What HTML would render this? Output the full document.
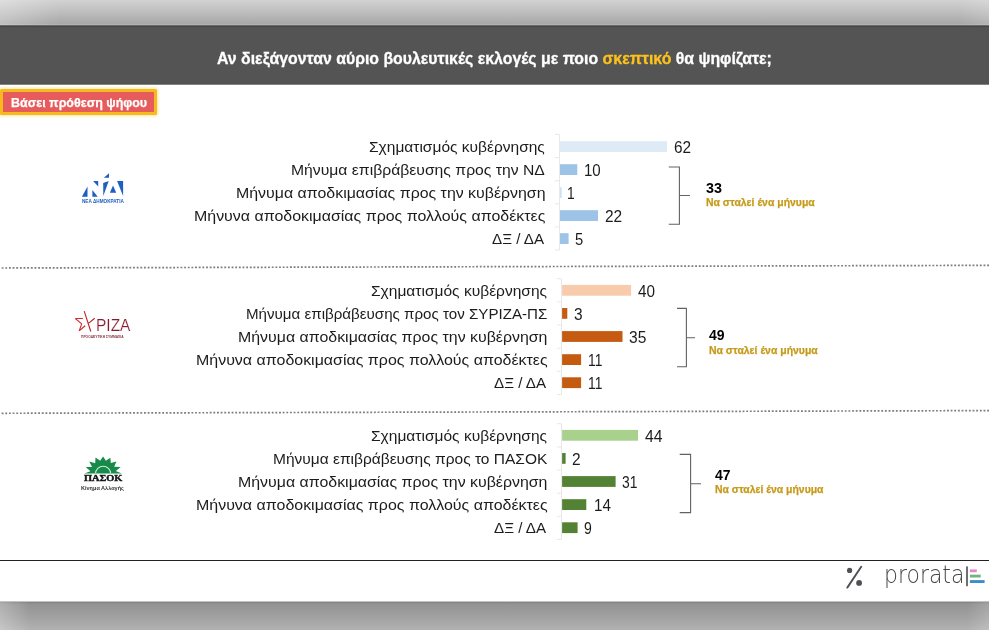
<!DOCTYPE html>
<html lang="el">
<head>
<meta charset="utf-8">
<title>Αν διεξάγονταν αύριο βουλευτικές εκλογές</title>
<style>
html,body{margin:0;padding:0;}
body{width:989px;height:630px;position:relative;overflow:hidden;background:#fff;font-family:'Liberation Sans',sans-serif;}
.abs{position:absolute;}
.t{position:absolute;white-space:nowrap;transform-origin:0 0;display:block;}
#topstrip{left:0;top:0;width:989px;height:30px;background:linear-gradient(to bottom,#d2d2d2 0,#cdcdcd 3px,#bcbcbc 13px,#a8a8a8 23.4px,#b1b1b1 24.5px,#b1b1b1 25.1px,#474747 25.7px,#474747 26.7px,#545454 27.6px,#545454 30px);}
#topstrip:before{content:"";position:absolute;left:0;top:0;width:60px;height:25px;background:linear-gradient(to right,rgba(255,255,255,.28),rgba(255,255,255,0));}
#topstrip:after{content:"";position:absolute;right:0;top:0;width:30px;height:25px;background:linear-gradient(to left,rgba(255,255,255,.14),rgba(255,255,255,.08) 45%,rgba(255,255,255,0));}
#band{left:0;top:29px;width:989px;height:58px;background:linear-gradient(to bottom,#545454 0,#545454 54.2px,#4c4c4c 55.1px,rgba(84,84,84,0) 56.4px);}
#botstrip{left:0;top:600px;width:989px;height:30px;background:linear-gradient(to bottom,rgba(134,134,134,0) 0.9px,#868686 2.1px,#868686 2.6px,#939393 4px,#a2a2a2 18px,#b2b2b2 30px);}
#botstrip:before{content:"";position:absolute;left:0;top:2px;width:30px;height:28px;background:linear-gradient(to right,rgba(255,255,255,.28),rgba(255,255,255,0));}
#botstrip:after{content:"";position:absolute;right:0;top:2px;width:22px;height:28px;background:linear-gradient(to left,rgba(255,255,255,.16),rgba(255,255,255,0));}
#badge{left:0;top:89.4px;width:156.7px;height:25.2px;box-sizing:border-box;background:#e65c5c;border:3px solid #f7b91e;border-radius:1.5px;box-shadow:0 0 3px 1px rgba(250,205,90,.55);}
#rule{left:0;top:559.5px;width:989px;height:1.4px;background:#222;}
svg{position:absolute;left:0;top:0;}
</style>
</head>
<body>
<div id="topstrip" class="abs"></div>
<div id="band" class="abs"></div>
<div id="botstrip" class="abs"></div>
<div id="badge" class="abs"></div>
<div id="rule" class="abs"></div>

<svg width="989" height="630" viewBox="0 0 989 630">
<path d="M559.5 134.5V250.0" stroke="#e8e8e8" stroke-width="1" fill="none"/>
<path d="M554.9 134.5H559.5" stroke="#e8e8e8" stroke-width="1" fill="none"/>
<path d="M554.9 157.6H559.5" stroke="#e8e8e8" stroke-width="1" fill="none"/>
<path d="M554.9 180.7H559.5" stroke="#e8e8e8" stroke-width="1" fill="none"/>
<path d="M554.9 203.8H559.5" stroke="#e8e8e8" stroke-width="1" fill="none"/>
<path d="M554.9 226.9H559.5" stroke="#e8e8e8" stroke-width="1" fill="none"/>
<path d="M554.9 250.0H559.5" stroke="#e8e8e8" stroke-width="1" fill="none"/>
<rect x="560.0" y="141.2" width="107.0" height="10.8" fill="#deebf7"/>
<rect x="560.0" y="164.2" width="17.3" height="10.8" fill="#9dc3e6"/>
<rect x="560.0" y="187.2" width="1.7" height="10.8" fill="#cfe1f3"/>
<rect x="560.0" y="210.2" width="38.0" height="10.8" fill="#9dc3e6"/>
<rect x="560.0" y="233.2" width="8.6" height="10.8" fill="#9dc3e6"/>
<path d="M561.5 278.7V394.5" stroke="#e8e8e8" stroke-width="1" fill="none"/>
<path d="M556.9 278.7H561.5" stroke="#e8e8e8" stroke-width="1" fill="none"/>
<path d="M556.9 301.9H561.5" stroke="#e8e8e8" stroke-width="1" fill="none"/>
<path d="M556.9 325.0H561.5" stroke="#e8e8e8" stroke-width="1" fill="none"/>
<path d="M556.9 348.2H561.5" stroke="#e8e8e8" stroke-width="1" fill="none"/>
<path d="M556.9 371.3H561.5" stroke="#e8e8e8" stroke-width="1" fill="none"/>
<path d="M556.9 394.5H561.5" stroke="#e8e8e8" stroke-width="1" fill="none"/>
<rect x="562.1" y="284.9" width="69.0" height="10.8" fill="#f8cbad"/>
<rect x="562.1" y="308.0" width="5.2" height="10.8" fill="#c55a11"/>
<rect x="562.1" y="331.1" width="60.4" height="10.8" fill="#c55a11"/>
<rect x="562.1" y="354.2" width="19.0" height="10.8" fill="#c55a11"/>
<rect x="562.1" y="377.3" width="19.0" height="10.8" fill="#c55a11"/>
<path d="M561.5 423.7V539.5" stroke="#e8e8e8" stroke-width="1" fill="none"/>
<path d="M556.9 423.7H561.5" stroke="#e8e8e8" stroke-width="1" fill="none"/>
<path d="M556.9 446.9H561.5" stroke="#e8e8e8" stroke-width="1" fill="none"/>
<path d="M556.9 470.0H561.5" stroke="#e8e8e8" stroke-width="1" fill="none"/>
<path d="M556.9 493.2H561.5" stroke="#e8e8e8" stroke-width="1" fill="none"/>
<path d="M556.9 516.3H561.5" stroke="#e8e8e8" stroke-width="1" fill="none"/>
<path d="M556.9 539.5H561.5" stroke="#e8e8e8" stroke-width="1" fill="none"/>
<rect x="562.1" y="429.9" width="75.9" height="10.8" fill="#a9d18e"/>
<rect x="562.1" y="453.0" width="3.5" height="10.8" fill="#548235"/>
<rect x="562.1" y="476.1" width="53.5" height="10.8" fill="#548235"/>
<rect x="562.1" y="499.2" width="24.2" height="10.8" fill="#548235"/>
<rect x="562.1" y="522.3" width="15.5" height="10.8" fill="#548235"/>
<line x1="-2" y1="268.0" x2="991" y2="265.35" stroke="#7d7d7d" stroke-width="1.7" stroke-dasharray="1.85 1.8"/>
<line x1="-2" y1="413.3" x2="991" y2="410.6" stroke="#7d7d7d" stroke-width="1.7" stroke-dasharray="1.85 1.8"/>
<path d="M668.8 167.0H679.4V224.2H668.8M679.4 195.5H690.0" stroke="#626262" stroke-width="1.1" fill="none"/>
<path d="M677.0 308.4H686.4V366.8H677.0M686.4 337.7H695.0" stroke="#626262" stroke-width="1.1" fill="none"/>
<path d="M679.7 454.4H690.6V512.6H679.7M690.6 483.8H701.0" stroke="#626262" stroke-width="1.1" fill="none"/>
<polygon points="81.9,196.7 87.5,186.5 87.5,196.7" fill="#1f5ec2"/>
<polygon points="93.1,180.9 98.2,180.9 98.2,186.5" fill="#1f5ec2"/>
<polygon points="92.4,190.1 92.4,196.7 97.7,196.7" fill="#1f5ec2"/>
<polygon points="103.2,183.0 108.7,181.1 103.3,195.9" fill="#1f5ec2"/>
<polygon points="103.8,177.8 109.0,173.2 109.0,177.8" fill="#1f5ec2"/>
<polygon points="109.9,192.8 113.0,185.5 116.2,192.8" fill="#1f5ec2"/>
<polygon points="117.1,181.1 123.1,181.1 123.1,196.0" fill="#1f5ec2"/>
<defs><linearGradient id="sg" x1="75" y1="0" x2="96" y2="0" gradientUnits="userSpaceOnUse"><stop offset="0" stop-color="#e0312e"/><stop offset="1" stop-color="#a8242c"/></linearGradient></defs>
<path d="M82.9 318.5L75.3 318.5L81.7 323.9L79.2 330.9L85.2 325.7M84.2 311.1L90.8 331.5M94.7 318.3L88.7 323.1" stroke="url(#sg)" stroke-width="1.15" fill="none" stroke-linejoin="bevel"/>
<polygon points="84.4,473.4 90.4,471.2 85.8,467.1 92.0,466.9 89.3,461.6 95.2,463.2 95.5,457.6 100.2,460.8 103.1,456.5 105.9,460.8 110.4,457.8 110.8,463.1 116.4,461.6 114.2,466.8 120.7,467.0 115.8,471.1 121.8,473.4" fill="#17894a"/>
<path d="M95.6 473.4A7.5 7.2 0 0 1 110.6 473.4" stroke="#c9f2d2" stroke-width="1.1" fill="none"/>
<path d="M847.3 587.6L861.2 566.8" stroke="#505055" stroke-width="1.9" stroke-linecap="round" fill="none"/>
<circle cx="849.6" cy="570.4" r="2.6" fill="#505055"/>
<circle cx="859.1" cy="582.9" r="2.9" fill="#505055"/>
<rect x="966.3" y="566.4" width="1.4" height="19.8" fill="#333"/>
<rect x="969.9" y="569.4" width="6.9" height="2.8" fill="#e884d2"/>
<rect x="969.9" y="574.7" width="10.8" height="2.8" fill="#6fb57c"/>
<rect x="969.9" y="580.1" width="14.7" height="2.9" fill="#3a8fc8"/>
</svg>

<div id="tx" style="position:absolute;left:0;top:0;width:989px;height:630px;will-change:transform">
<span class="t" style="left:217.40px;top:50.00px;font:700 16.2px/16.2px 'Liberation Sans', sans-serif;color:#ffffff;transform:scaleX(0.9794);-webkit-text-stroke:0.3px currentColor;">Αν διεξάγονταν αύριο βουλευτικές εκλογές με ποιο <span style="color:#fcc21b">σκεπτικό</span> θα ψηφίζατε;</span>
<span class="t" style="left:10.60px;top:96.00px;font:700 13.2px/13.2px 'Liberation Sans', sans-serif;color:#ffffff;transform:scaleX(0.9462);-webkit-text-stroke:0.25px #fff;">Βάσει πρόθεση ψήφου</span>
<span class="t" style="left:369.30px;top:140.00px;font:400 14.6px/14.6px 'Liberation Sans', sans-serif;color:#1c1c1c;transform:scaleX(1.0636);">Σχηματισμός κυβέρνησης</span>
<span class="t" style="left:291.02px;top:163.00px;font:400 14.6px/14.6px 'Liberation Sans', sans-serif;color:#1c1c1c;transform:scaleX(1.0773);">Μήνυμα επιβράβευσης προς την ΝΔ</span>
<span class="t" style="left:235.71px;top:186.00px;font:400 14.6px/14.6px 'Liberation Sans', sans-serif;color:#1c1c1c;transform:scaleX(1.0900);">Μήνυμα αποδκιμασίας προς την κυβέρνηση</span>
<span class="t" style="left:193.81px;top:209.00px;font:400 14.6px/14.6px 'Liberation Sans', sans-serif;color:#1c1c1c;transform:scaleX(1.0923);">Μήνυνα αποδοκιμασίας προς πολλούς αποδέκτες</span>
<span class="t" style="left:491.90px;top:232.00px;font:400 14.6px/14.6px 'Liberation Sans', sans-serif;color:#1c1c1c;transform:scaleX(1.0402);">ΔΞ / ΔΑ</span>
<span class="t" style="left:371.40px;top:284.00px;font:400 14.6px/14.6px 'Liberation Sans', sans-serif;color:#1c1c1c;transform:scaleX(1.0648);">Σχηματισμός κυβέρνησης</span>
<span class="t" style="left:246.06px;top:307.00px;font:400 14.6px/14.6px 'Liberation Sans', sans-serif;color:#1c1c1c;transform:scaleX(1.0366);">Μήνυμα επιβράβευσης προς τον ΣΥΡΙΖΑ-ΠΣ</span>
<span class="t" style="left:238.11px;top:330.00px;font:400 14.6px/14.6px 'Liberation Sans', sans-serif;color:#1c1c1c;transform:scaleX(1.0896);">Μήνυμα αποδκιμασίας προς την κυβέρνηση</span>
<span class="t" style="left:195.81px;top:353.00px;font:400 14.6px/14.6px 'Liberation Sans', sans-serif;color:#1c1c1c;transform:scaleX(1.0933);">Μήνυνα αποδοκιμασίας προς πολλούς αποδέκτες</span>
<span class="t" style="left:494.20px;top:376.00px;font:400 14.6px/14.6px 'Liberation Sans', sans-serif;color:#1c1c1c;transform:scaleX(1.0402);">ΔΞ / ΔΑ</span>
<span class="t" style="left:371.40px;top:429.00px;font:400 14.6px/14.6px 'Liberation Sans', sans-serif;color:#1c1c1c;transform:scaleX(1.0648);">Σχηματισμός κυβέρνησης</span>
<span class="t" style="left:272.84px;top:452.00px;font:400 14.6px/14.6px 'Liberation Sans', sans-serif;color:#1c1c1c;transform:scaleX(1.0624);">Μήνυμα επιβράβευσης προς το ΠΑΣΟΚ</span>
<span class="t" style="left:238.11px;top:475.00px;font:400 14.6px/14.6px 'Liberation Sans', sans-serif;color:#1c1c1c;transform:scaleX(1.0896);">Μήνυμα αποδκιμασίας προς την κυβέρνηση</span>
<span class="t" style="left:195.81px;top:498.00px;font:400 14.6px/14.6px 'Liberation Sans', sans-serif;color:#1c1c1c;transform:scaleX(1.0933);">Μήνυνα αποδοκιμασίας προς πολλούς αποδέκτες</span>
<span class="t" style="left:494.20px;top:521.00px;font:400 14.6px/14.6px 'Liberation Sans', sans-serif;color:#1c1c1c;transform:scaleX(1.0402);">ΔΞ / ΔΑ</span>
<span class="t" style="left:674.00px;top:140.00px;font:400 16.0px/16.0px 'Liberation Sans', sans-serif;color:#1c1c1c;transform:scaleX(0.9610);">62</span>
<span class="t" style="left:583.86px;top:163.00px;font:400 16.0px/16.0px 'Liberation Sans', sans-serif;color:#1c1c1c;transform:scaleX(0.9409);">10</span>
<span class="t" style="left:567.05px;top:186.00px;font:400 16.0px/16.0px 'Liberation Sans', sans-serif;color:#1c1c1c;transform:scaleX(0.8600);">1</span>
<span class="t" style="left:604.50px;top:209.00px;font:400 16.0px/16.0px 'Liberation Sans', sans-serif;color:#1c1c1c;transform:scaleX(0.9666);">22</span>
<span class="t" style="left:574.90px;top:232.00px;font:400 16.0px/16.0px 'Liberation Sans', sans-serif;color:#1c1c1c;transform:scaleX(0.9222);">5</span>
<span class="t" style="left:638.30px;top:284.00px;font:400 16.0px/16.0px 'Liberation Sans', sans-serif;color:#1c1c1c;transform:scaleX(0.9554);">40</span>
<span class="t" style="left:573.50px;top:307.00px;font:400 16.0px/16.0px 'Liberation Sans', sans-serif;color:#1c1c1c;transform:scaleX(0.9667);">3</span>
<span class="t" style="left:629.20px;top:330.00px;font:400 16.0px/16.0px 'Liberation Sans', sans-serif;color:#1c1c1c;transform:scaleX(0.9722);">35</span>
<span class="t" style="left:588.28px;top:353.00px;font:400 16.0px/16.0px 'Liberation Sans', sans-serif;color:#1c1c1c;transform:scaleX(0.8600);">11</span>
<span class="t" style="left:588.28px;top:376.00px;font:400 16.0px/16.0px 'Liberation Sans', sans-serif;color:#1c1c1c;transform:scaleX(0.8600);">11</span>
<span class="t" style="left:645.10px;top:429.00px;font:400 16.0px/16.0px 'Liberation Sans', sans-serif;color:#1c1c1c;transform:scaleX(0.9833);">44</span>
<span class="t" style="left:571.80px;top:452.00px;font:400 16.0px/16.0px 'Liberation Sans', sans-serif;color:#1c1c1c;transform:scaleX(0.9667);">2</span>
<span class="t" style="left:621.80px;top:475.00px;font:400 16.0px/16.0px 'Liberation Sans', sans-serif;color:#1c1c1c;transform:scaleX(0.8660);">31</span>
<span class="t" style="left:593.55px;top:498.00px;font:400 16.0px/16.0px 'Liberation Sans', sans-serif;color:#1c1c1c;transform:scaleX(0.9528);">14</span>
<span class="t" style="left:584.20px;top:521.00px;font:400 16.0px/16.0px 'Liberation Sans', sans-serif;color:#1c1c1c;transform:scaleX(0.8778);">9</span>
<span class="t" style="left:706.00px;top:181.00px;font:700 14.5px/14.5px 'Liberation Sans', sans-serif;color:#000;transform:scaleX(0.9898);">33</span>
<span class="t" style="left:706.00px;top:197.00px;font:700 10.6px/10.6px 'Liberation Sans', sans-serif;color:#c69a1a;transform:scaleX(0.9862);-webkit-text-stroke:0.25px #c69a1a;">Να σταλεί ένα μήνυμα</span>
<span class="t" style="left:708.80px;top:328.00px;font:700 14.5px/14.5px 'Liberation Sans', sans-serif;color:#000;transform:scaleX(0.9649);">49</span>
<span class="t" style="left:709.10px;top:345.00px;font:700 10.6px/10.6px 'Liberation Sans', sans-serif;color:#c69a1a;transform:scaleX(0.9862);-webkit-text-stroke:0.25px #c69a1a;">Να σταλεί ένα μήνυμα</span>
<span class="t" style="left:714.60px;top:468.00px;font:700 14.5px/14.5px 'Liberation Sans', sans-serif;color:#000;transform:scaleX(0.9649);">47</span>
<span class="t" style="left:715.20px;top:484.00px;font:700 10.6px/10.6px 'Liberation Sans', sans-serif;color:#c69a1a;transform:scaleX(0.9844);-webkit-text-stroke:0.25px #c69a1a;">Να σταλεί ένα μήνυμα</span>
<span class="t" style="left:81.80px;top:200.00px;font:700 4.9px/4.9px 'Liberation Sans', sans-serif;color:#1f5ec2;transform:scaleX(0.9548);">ΝΕΑ ΔΗΜΟΚΡΑΤΙΑ</span>
<span class="t" style="left:95.99px;top:317.00px;font:400 17.1px/17.1px 'Liberation Sans', sans-serif;color:#841a2c;transform:scaleX(0.9071);-webkit-text-stroke:0.2px #fff;">ΡΙΖΑ</span>
<span class="t" style="left:81.30px;top:336.00px;font:700 3.0px/3.0px 'Liberation Sans', sans-serif;color:#8a3040;transform:scaleX(1.1000);">ΠΡΟΟΔΕΥΤΙΚΗ ΣΥΜΜΑΧΙΑ</span>
<span class="t" style="left:83.90px;top:474.00px;font:700 8.8px/8.8px 'Liberation Serif', serif;color:#151515;transform:scaleX(1.1772);-webkit-text-stroke:0.4px #151515;">ΠΑΣΟΚ</span>
<span class="t" style="left:81.40px;top:486.00px;font:700 5.7px/5.7px 'Liberation Sans', sans-serif;color:#333;transform:scaleX(0.9734);">Κίνημα Αλλαγής</span>
<span class="t" style="left:884.08px;top:562.00px;font:200 25.5px/25.5px 'DejaVu Sans Light', 'DejaVu Sans', sans-serif;color:#444;transform:scaleX(0.8602);">prorata</span>
</div>
</body>
</html>
